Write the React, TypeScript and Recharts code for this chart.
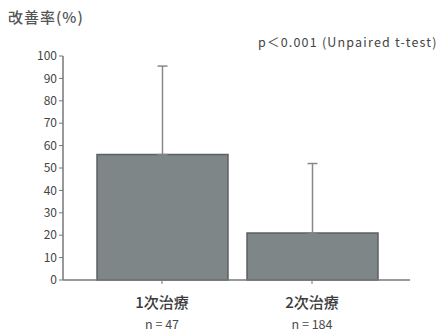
import React from "react";
import { BarChart, Bar, XAxis, YAxis, ErrorBar } from "recharts";

// 改善率: mean and SD per treatment group
const groups = ["1次治療", "2次治療"];
const counts = [47, 184];
const meanRates = [56, 21];
const sdRates = [39.5, 31];
const yTicks = [0, 10, 20, 30, 40, 50, 60, 70, 80, 90, 100];

const FONT = '"Noto Sans CJK JP", "Noto Sans", sans-serif';

const data = groups.map((name, i) => ({
  name,
  n: counts[i],
  rate: meanRates[i],
  // only the upper whisker is drawn
  err: [0, sdRates[i]],
}));

function GroupTick(props: any) {
  const { x, y, payload, index } = props;
  return (
    <g transform={`translate(${x},${y})`}>
      <text x={0} y={22} textAnchor="middle" fill="#3c3c3c" fontSize={15} fontWeight={500} fontFamily={FONT}>
        {payload.value}
      </text>
      <text x={0} y={43} textAnchor="middle" fill="#4a4a4a" fontSize={12.5} fontFamily={FONT}>
        {`n = ${counts[index]}`}
      </text>
    </g>
  );
}

export default function App() {
  return (
    <div style={{ position: "absolute", left: 0, top: 0, width: 441, height: 332, background: "#fff", fontFamily: FONT, overflow: "hidden" }}>
      <div style={{ position: "absolute", left: 8, top: 6, fontSize: 15, fontWeight: 500, color: "#555", letterSpacing: 1 }}>
        改善率(%)
      </div>
      <div style={{ position: "absolute", left: 258, top: 32, fontSize: 12.5, color: "#444", whiteSpace: "nowrap", letterSpacing: 1.2 }}>
        p＜0.001 (Unpaired t-test)
      </div>
      <BarChart width={441} height={332} data={data} margin={{ top: 56, right: 31, left: 0, bottom: 0 }}>
        <XAxis
          dataKey="name"
          tick={<GroupTick />}
          tickSize={4}
          axisLine={{ stroke: "#777", strokeWidth: 1.5 }}
          tickLine={{ stroke: "#777" }}
          padding={{ left: 24, right: 23 }}
          height={52}
          interval={0}
        />
        <YAxis
          domain={[0, 100]}
          ticks={yTicks}
          width={63}
          tickSize={4}
          axisLine={{ stroke: "#777", strokeWidth: 1.5 }}
          tickLine={{ stroke: "#777" }}
          tick={{ fill: "#444", fontSize: 12, fontFamily: FONT }}
          interval={0}
        />
        <Bar dataKey="rate" fill="#7f8688" stroke="#5c6162" strokeWidth={1.5} barSize={131} isAnimationActive={false}>
          <ErrorBar dataKey="err" width={5} stroke="#888" strokeWidth={1.5} direction="y" />
        </Bar>
      </BarChart>
    </div>
  );
}
